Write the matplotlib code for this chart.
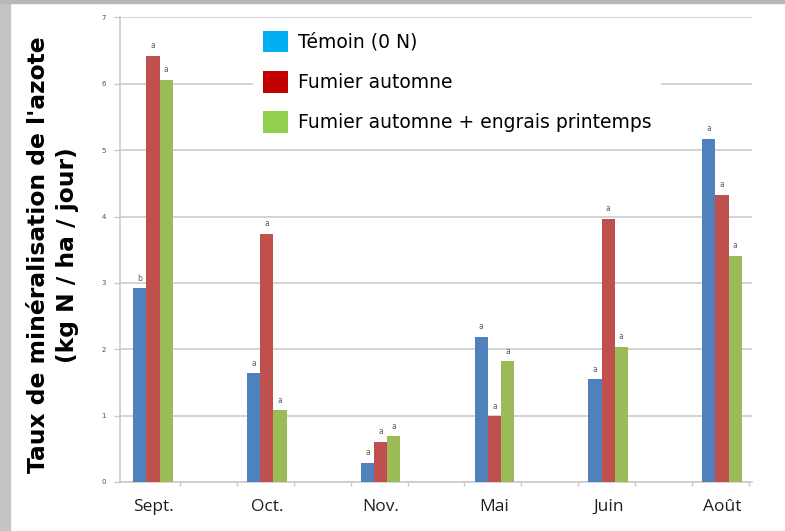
import numpy as np
import matplotlib
matplotlib.use("Agg")
import matplotlib.pyplot as plt
from matplotlib.patches import Patch, Rectangle

# données
mois = ["Sept.", "Oct.", "Nov.", "Mai", "Juin", "Août"]
temoin = [2.92, 1.64, 0.29, 2.19, 1.55, 5.17]
fumier = [6.42, 3.74, 0.61, 0.99, 3.97, 4.33]
fumier_engrais = [6.06, 1.08, 0.69, 1.82, 2.04, 3.41]
lettres_temoin = ["b", "a", "a", "a", "a", "a"]
lettres_fumier = ["a", "a", "a", "a", "a", "a"]
lettres_engrais = ["a", "a", "a", "a", "a", "a"]
legende = ["Témoin (0 N)", "Fumier automne", "Fumier automne + engrais printemps"]

couleurs_barres = ["#4f81bd", "#c0504d", "#9bbb59"]
couleurs_legende = ["#00b0f0", "#c00000", "#92d050"]

fig = plt.figure(figsize=(7.85, 5.31), dpi=100, facecolor="white")

# bordure grise
fig.patches.append(Rectangle((0, 0), 10 / 785, 1, transform=fig.transFigure,
                             color="#c4c4c4", zorder=0))
fig.patches.append(Rectangle((0, 1 - 3 / 531), 1, 3 / 531, transform=fig.transFigure,
                             color="#b8b8b8", zorder=0))

ax = fig.add_axes([120 / 785, 1 - 482 / 531, 632 / 785, 464.6 / 531])

x = np.arange(len(mois))
w = 0.116
series = [temoin, fumier, fumier_engrais]
lettres = [lettres_temoin, lettres_fumier, lettres_engrais]
for k, (vals, lets) in enumerate(zip(series, lettres)):
    pos = x + (k - 1) * w
    ax.bar(pos, vals, width=w, color=couleurs_barres[k], zorder=3)
    for px, v, l in zip(pos, vals, lets):
        ax.annotate(l, (px, v), xytext=(0, 4), textcoords="offset points",
                    ha="center", va="bottom", fontsize=5.5, color="#606060")

ax.set_xlim(-0.29, 5.264)
ax.set_ylim(0, 7)
ax.set_yticks(range(0, 8))
ax.yaxis.grid(True, color="#c8c8c8", linewidth=1.1, zorder=0)
ax.set_axisbelow(True)

for s in ["top", "right"]:
    ax.spines[s].set_visible(False)
ax.spines["left"].set_color("#c8c8c8")
ax.spines["bottom"].set_color("#c8c8c8")
ax.spines["left"].set_linewidth(1.1)
ax.spines["bottom"].set_linewidth(1.1)

ax.tick_params(axis="y", labelsize=5, labelcolor="#505050", color="#c8c8c8",
               length=4, width=1, pad=6)
ax.set_xticks(x)
ax.set_xticklabels(mois, fontsize=12.5, fontfamily="Open Sans", color="#202020")
ax.tick_params(axis="x", which="major", length=0, pad=12)
ax.set_xticks(np.arange(0.237, 5.3, 0.5), minor=True)
ax.tick_params(axis="x", which="minor", length=3, color="#c8c8c8", width=1)

fig.text(53 / 785, 1 - 255 / 531,
         "Taux de minéralisation de l'azote\n(kg N / ha / jour)",
         rotation=90, ha="center", va="center", fontsize=16.8,
         fontweight="bold", color="black", linespacing=1.3,
         fontfamily="DejaVu Sans")

poignees = [Patch(facecolor=c, edgecolor="none") for c in couleurs_legende]
leg = ax.legend(poignees, legende, loc="upper left",
                bbox_to_anchor=(124 / 632, 1.012), frameon=True,
                facecolor="white", edgecolor="none", framealpha=1,
                fontsize=13.5, handlelength=1.35, handleheight=1.4,
                labelspacing=1.0, handletextpad=0.55, borderpad=0.5,
                fancybox=False)
for t in leg.get_texts():
    t.set_fontfamily("DejaVu Sans")
leg.set_zorder(5)

fig.savefig("out.png", dpi=100, facecolor="white")
